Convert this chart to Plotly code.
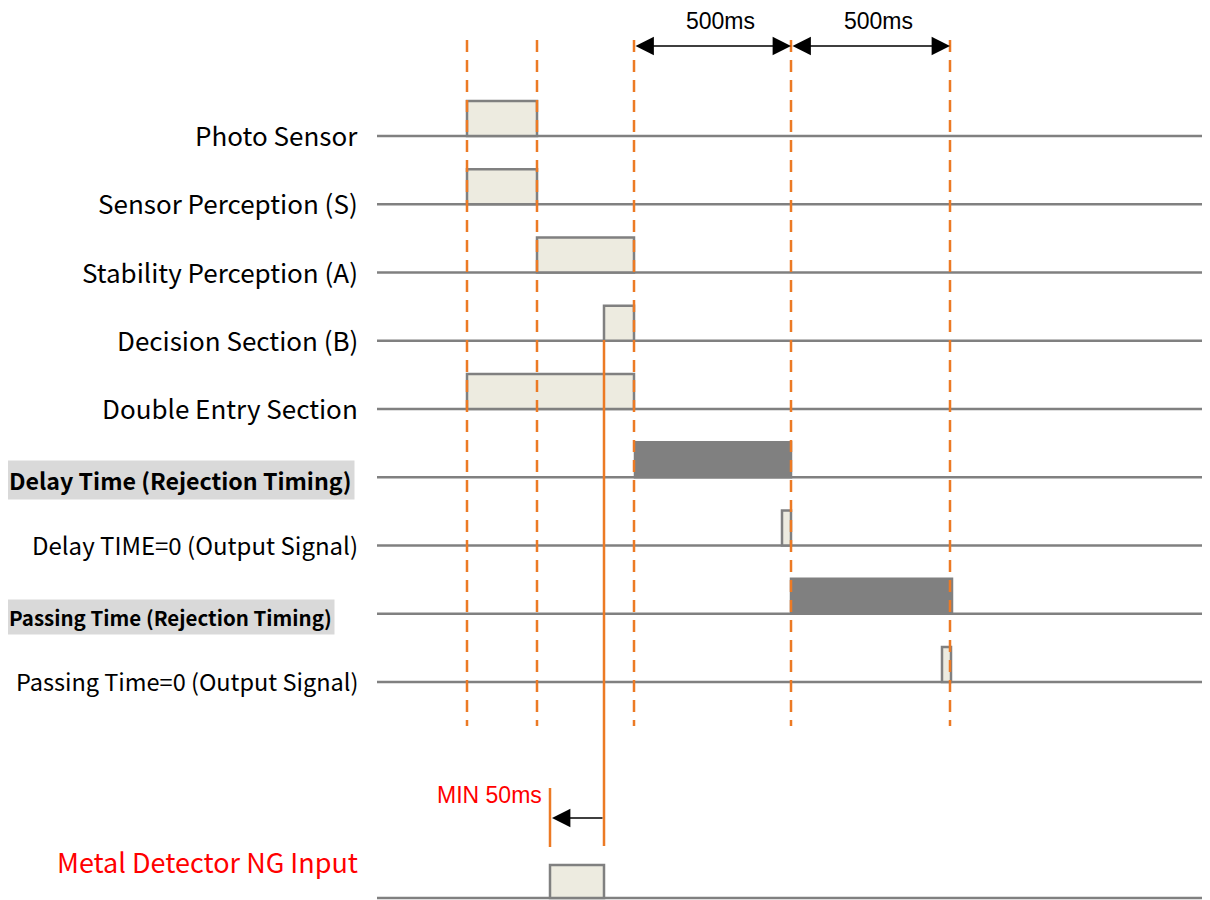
import plotly.graph_objects as go

# time axis in abstract units (0 = first dashed marker)
EVENTS = [0, 70, 167, 324, 483]          # dashed marker times
SPAN_LABELS = ["500ms", "500ms"]          # between EVENTS[2]-[3] and [3]-[4]

SIGNAL_NAMES = [
    "Photo Sensor",
    "Sensor Perception (S)",
    "Stability Perception (A)",
    "Decision Section (B)",
    "Double Entry Section",
    "Delay Time (Rejection Timing)",
    "Delay TIME=0 (Output Signal)",
    "Passing Time (Rejection Timing)",
    "Passing Time=0 (Output Signal)",
]
PULSE_START = [0, 0, 70, 137, 0, 168, 315, 324, 475]
PULSE_END = [70, 70, 167, 167, 167, 324, 324, 485, 484]
PULSE_KIND = ["light", "light", "light", "light", "light", "dark", "light", "dark", "light"]

NG_NAME = "Metal Detector NG Input"
NG_START = 83
NG_END = 137
MIN_LABEL = "MIN 50ms"

X0 = 467           # pixel of t = 0
OFF = 8            # page body margin
W, H = 1210 - OFF, 900 - OFF
ROW0, ROW_STEP = 136, 68.25
NG_ROW = 898
PULSE_H = 35

ORANGE = "#EC7A24"
GREY = "#808080"
LIGHT = "#EDEBE0"
FONT = "Noto Sans CJK KR"

fig = go.Figure()
shapes = []
annos = []

rows = [ROW0 + i * ROW_STEP for i in range(len(SIGNAL_NAMES))]

# baselines
for y in rows + [NG_ROW]:
    shapes.append(dict(type="line", x0=377 - X0, x1=1212 - X0, y0=y, y1=y,
                       line=dict(color=GREY, width=2.5), layer="below"))

# pulses
for name, y, s, e, k in zip(SIGNAL_NAMES, rows, PULSE_START, PULSE_END, PULSE_KIND):
    fill = GREY if k == "dark" else LIGHT
    shapes.append(dict(type="rect", x0=s, x1=e, y0=y, y1=y - PULSE_H,
                       fillcolor=fill, line=dict(color=GREY, width=2.5), layer="below"))

shapes.append(dict(type="rect", x0=NG_START, x1=NG_END, y0=NG_ROW, y1=NG_ROW - 33,
                   fillcolor=LIGHT, line=dict(color=GREY, width=2.5), layer="below"))

# dashed event markers
for t in EVENTS:
    shapes.append(dict(type="line", x0=t, x1=t, y0=40, y1=726,
                       line=dict(color=ORANGE, width=2.5, dash="12px,8px")))

# NG solid markers
shapes.append(dict(type="line", x0=NG_END, x1=NG_END, y0=340, y1=846,
                   line=dict(color=ORANGE, width=2.5)))
shapes.append(dict(type="line", x0=NG_START, x1=NG_START, y0=788, y1=847,
                   line=dict(color=ORANGE, width=2.5)))

# labels
bold = {5: 23.2, 7: 20.5}
small = {6: 24.0, 8: 23.5}
for i, (name, y) in enumerate(zip(SIGNAL_NAMES, rows)):
    if i in bold:
        annos.append(dict(x=-2 / W, y=y + 3, xref="paper", yref="y", xanchor="left", yanchor="middle",
                          text="<b>" + name + "</b>", showarrow=False, bgcolor="#D9D9D9",
                          borderpad=2, font=dict(family=FONT, size=bold[i], color="black")))
    else:
        annos.append(dict(x=360 - X0, y=y - 1.5, xref="x", yref="y", xanchor="right", yanchor="middle",
                          text=name, showarrow=False,
                          font=dict(family=FONT, size=small.get(i, 26), color="black")))

annos.append(dict(x=360 - X0, y=861, xref="x", yref="y", xanchor="right", yanchor="middle",
                  text=NG_NAME, showarrow=False,
                  font=dict(family=FONT, size=27, color="red")))

# 500ms spans
for (a, b), lab in zip([(EVENTS[2], EVENTS[3]), (EVENTS[3], EVENTS[4])], SPAN_LABELS):
    annos.append(dict(x=b, y=46, ax=a, ay=46, xref="x", yref="y", axref="x", ayref="y",
                      text="", showarrow=True, arrowhead=2, arrowside="end+start",
                      arrowsize=2.3, arrowwidth=1.6, arrowcolor="black"))
    annos.append(dict(x=(a + b) / 2 + 8, y=21, xref="x", yref="y", text=lab, showarrow=False,
                      borderpad=0, font=dict(family="Liberation Sans", size=23, color="black")))

# MIN 50ms arrow
annos.append(dict(x=NG_START + 2, y=818, ax=NG_END, ay=818, xref="x", yref="y",
                  axref="x", ayref="y", text="", showarrow=True, arrowhead=2,
                  arrowsize=2.3, arrowwidth=1.6, arrowcolor="black"))
annos.append(dict(x=544 - X0, y=795, xref="x", yref="y", xanchor="right", text=MIN_LABEL,
                  showarrow=False, font=dict(family="Liberation Sans", size=23, color="red")))

fig.update_layout(
    width=W, height=H,
    margin=dict(l=0, r=0, t=0, b=0),
    paper_bgcolor="white", plot_bgcolor="white",
    shapes=shapes, annotations=annos,
    xaxis=dict(range=[OFF - X0, 1210 - X0], visible=False, fixedrange=True),
    yaxis=dict(range=[900, OFF], visible=False, fixedrange=True),
    showlegend=False,
)

fig.write_html("out.html")
